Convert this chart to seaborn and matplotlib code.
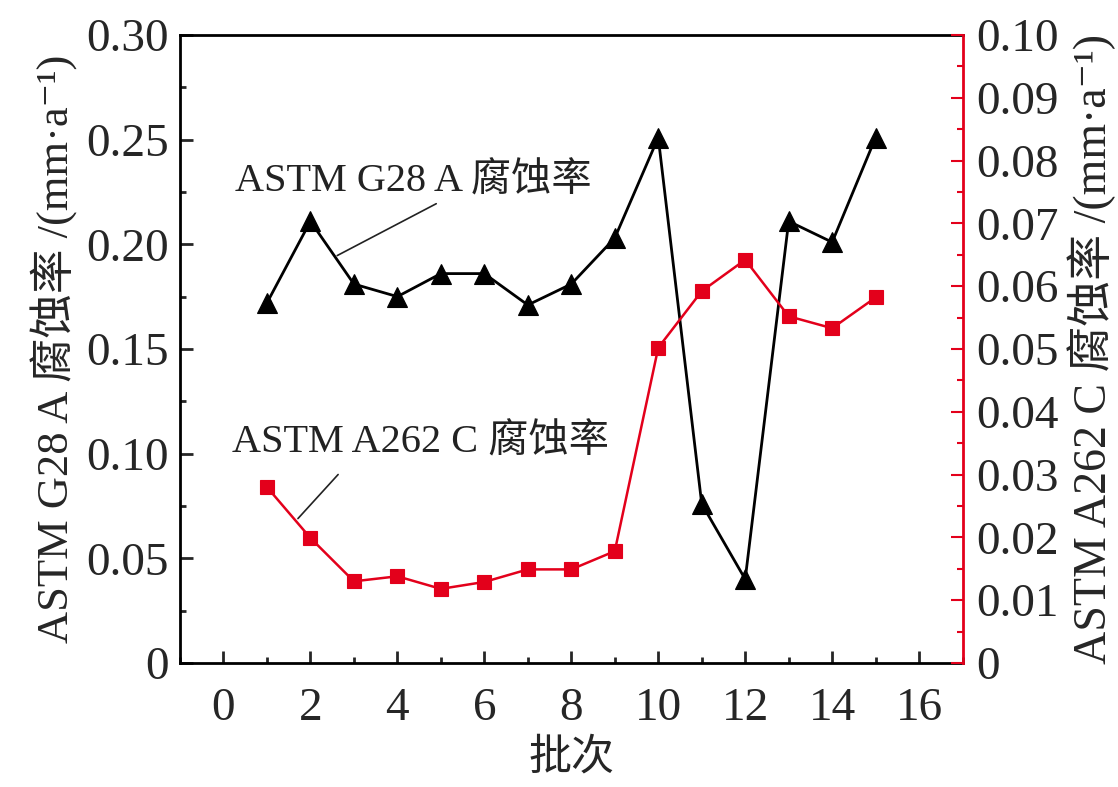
import matplotlib
matplotlib.use('Agg')
import matplotlib.pyplot as plt
import pandas as pd
import seaborn as sns
from matplotlib.ticker import MultipleLocator

batch = [1, 2, 3, 4, 5, 6, 7, 8, 9, 10, 11, 12, 13, 14, 15]
g28_rate = [0.172, 0.211, 0.181, 0.175, 0.186, 0.186, 0.171, 0.181, 0.203,
            0.251, 0.076, 0.040, 0.211, 0.201, 0.251]
a262_rate = [0.0280, 0.0199, 0.0130, 0.0138, 0.0118, 0.0129, 0.0149, 0.0149, 0.0178,
             0.0502, 0.0592, 0.0642, 0.0552, 0.0533, 0.0582]

left_ticks = [0, 0.05, 0.10, 0.15, 0.20, 0.25, 0.30]
left_labels = ['0', '0.05', '0.10', '0.15', '0.20', '0.25', '0.30']
right_ticks = [0, 0.01, 0.02, 0.03, 0.04, 0.05, 0.06, 0.07, 0.08, 0.09, 0.10]
right_labels = ['0', '0.01', '0.02', '0.03', '0.04', '0.05', '0.06', '0.07', '0.08', '0.09', '0.10']
x_ticks = [0, 2, 4, 6, 8, 10, 12, 14, 16]

RED = '#e3001b'
FONTS = ['Liberation Serif', 'Noto Sans CJK SC', 'DejaVu Serif']

sns.set_style('ticks')
plt.rcParams['font.family'] = FONTS
plt.rcParams['xtick.direction'] = 'in'
plt.rcParams['ytick.direction'] = 'in'

df = pd.DataFrame({'batch': batch, 'g28': g28_rate, 'a262': a262_rate})

fig = plt.figure(figsize=(11.18, 7.87), dpi=100)
ax = fig.add_axes([0.161, 0.1576, 0.7, 0.798])
ax2 = ax.twinx()

sns.lineplot(data=df, x='batch', y='g28', ax=ax, color='black', linewidth=2,
             marker='^', markersize=14, markeredgecolor='black', markeredgewidth=0.8)
sns.lineplot(data=df, x='batch', y='a262', ax=ax2, color=RED, linewidth=1.8,
             marker='s', markersize=10, markeredgecolor=RED, markeredgewidth=0.8)

ax.set_xlim(-1, 17)
ax.set_ylim(0, 0.30)
ax2.set_ylim(0, 0.10)

ax.set_xticks(x_ticks)
ax.set_xticklabels([str(t) for t in x_ticks])
ax.xaxis.set_minor_locator(MultipleLocator(1))
ax.set_yticks(left_ticks)
ax.set_yticklabels(left_labels)
ax.yaxis.set_minor_locator(MultipleLocator(0.025))
ax2.set_yticks(right_ticks)
ax2.set_yticklabels(right_labels)
ax2.yaxis.set_minor_locator(MultipleLocator(0.005))

ax.tick_params(axis='both', which='major', labelsize=34, length=9, width=2, pad=8)
ax.tick_params(axis='x', which='major', pad=18)
ax.tick_params(axis='both', which='minor', length=4, width=2)
ax.tick_params(axis='x', top=False, which='both')
ax.tick_params(axis='y', right=False, which='both')
ax2.tick_params(axis='y', which='major', labelsize=34, length=9, width=1.5, color=RED, pad=10)
ax2.tick_params(axis='y', which='minor', length=4, width=1.5, color=RED)

for side in ['left', 'bottom', 'top']:
    ax.spines[side].set_linewidth(2)
    ax.spines[side].set_color('black')
for side in ['left', 'bottom', 'top']:
    ax2.spines[side].set_visible(False)
ax.spines['right'].set_visible(False)
ax2.spines['right'].set_linewidth(2)
ax2.spines['right'].set_color(RED)

ax.set_xlabel('批次', fontsize=31, labelpad=6)
ax.set_ylabel('ASTM G28 A 腐蚀率 /(mm·a⁻¹)', fontsize=32, labelpad=6)
ax2.set_ylabel('ASTM A262 C 腐蚀率 /(mm·a⁻¹)', fontsize=33, labelpad=6)

# annotation labels with leader lines
ax.text(0.26, 0.230, 'ASTM G28 A 腐蚀率', fontsize=29, color='#222222', va='center', ha='left')
ax.annotate('', xy=(2.56, 0.194), xytext=(4.95, 0.220),
            arrowprops=dict(arrowstyle='-', color='#222222', lw=1.2))
ax.text(0.20, 0.105, 'ASTM A262 C 腐蚀率', fontsize=29, color='#222222', va='center', ha='left')
ax.annotate('', xy=(1.67, 0.068), xytext=(2.68, 0.091),
            arrowprops=dict(arrowstyle='-', color='#222222', lw=1.2))

fig.savefig('out.png', dpi=100)
